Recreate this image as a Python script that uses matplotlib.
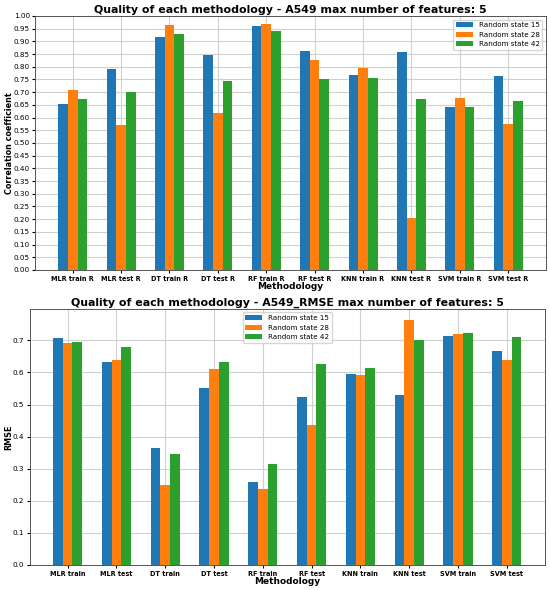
import matplotlib
matplotlib.use("Agg")
import matplotlib.pyplot as plt
import numpy as np

r_labels = ["MLR train R", "MLR test R", "DT train R", "DT test R", "RF train R",
            "RF test R", "KNN train R", "KNN test R", "SVM train R", "SVM test R"]
r_state15 = [0.652, 0.791, 0.919, 0.845, 0.959, 0.861, 0.768, 0.857, 0.643, 0.765]
r_state28 = [0.707, 0.572, 0.966, 0.617, 0.969, 0.827, 0.795, 0.203, 0.676, 0.573]
r_state42 = [0.673, 0.700, 0.929, 0.745, 0.941, 0.752, 0.757, 0.673, 0.643, 0.667]

rmse_labels = ["MLR train", "MLR test", "DT train", "DT test", "RF train",
               "RF test", "KNN train", "KNN test", "SVM train", "SVM test"]
rmse_state15 = [0.707, 0.634, 0.365, 0.552, 0.259, 0.524, 0.596, 0.530, 0.715, 0.666]
rmse_state28 = [0.691, 0.638, 0.249, 0.611, 0.236, 0.437, 0.591, 0.762, 0.721, 0.638]
rmse_state42 = [0.696, 0.678, 0.347, 0.634, 0.316, 0.626, 0.614, 0.702, 0.722, 0.709]

series_names = ["Random state 15", "Random state 28", "Random state 42"]
colors = ["#1f77b4", "#ff7f0e", "#2ca02c"]

fig = plt.figure(figsize=(5.5, 5.9), dpi=100)
ax1 = fig.add_axes([0.0636, 0.5424, 0.929, 0.4305])
ax2 = fig.add_axes([0.0537, 0.0424, 0.937, 0.434])

w = 0.2

def draw(ax, labels, data, ylabel, title, legend_loc):
    x = np.arange(len(labels))
    for i, (vals, name, c) in enumerate(zip(data, series_names, colors)):
        ax.bar(x + (i - 1) * w, vals, w, label=name, color=c, zorder=3)
    ax.set_xticks(x)
    ax.set_xticklabels(labels, fontsize=4.7, fontweight="bold")
    ax.tick_params(axis="y", labelsize=5.2, length=2.2, pad=1.5)
    ax.tick_params(axis="x", length=2.2, pad=2)
    ax.set_xlabel("Methodology", fontsize=6.5, fontweight="bold", labelpad=0)
    ax.set_ylabel(ylabel, fontsize=5.8, fontweight="bold")
    ax.set_title(title, fontsize=7.9, fontweight="bold", pad=2)
    ax.grid(True, color="#d0d0d0", linewidth=0.8, zorder=0)
    ax.set_axisbelow(True)
    ax.legend(loc=legend_loc, fontsize=5.1, handlelength=2.4)
    for s in ax.spines.values():
        s.set_linewidth(0.7)
        s.set_color("#555555")

draw(ax1, r_labels, [r_state15, r_state28, r_state42], "Correlation coefficient",
     "Quality of each methodology - A549 max number of features: 5", "upper right")
ax1.set_ylim(0, 1.0)
ax1.set_yticks(np.arange(0, 1.0001, 0.05))
ax1.yaxis.set_label_coords(-0.042, 0.5)

draw(ax2, rmse_labels, [rmse_state15, rmse_state28, rmse_state42], "RMSE",
     "Quality of each methodology - A549_RMSE max number of features: 5", "upper center")
ax2.set_ylim(0, 0.798)
ax2.yaxis.set_label_coords(-0.032, 0.5)

fig.savefig("out.png", dpi=100)
